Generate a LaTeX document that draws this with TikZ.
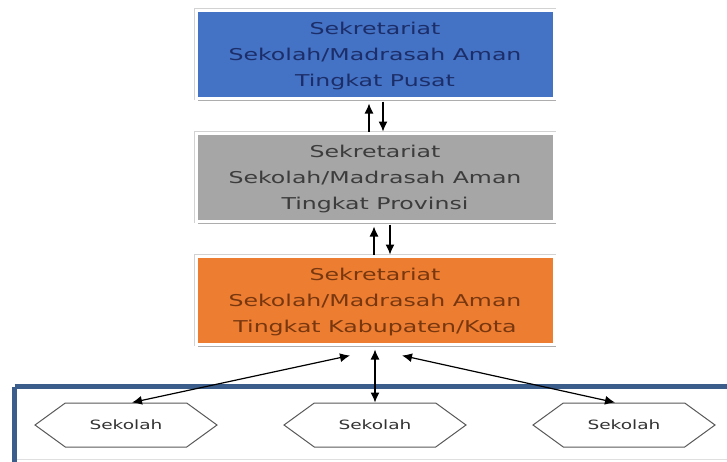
\documentclass[tikz,border=0pt]{standalone}
\usepackage{fontspec}
\usepackage{tikz}
\usetikzlibrary{positioning, shapes.symbols, shadows, arrows.meta}
\newfontfamily\sekfont[FakeStretch=1.45]{DejaVu Sans}
\definecolor{pusatblue}{RGB}{68,114,196}
\definecolor{pusattext}{RGB}{28,46,105}
\definecolor{provgray}{RGB}{166,166,166}
\definecolor{provtext}{RGB}{60,60,60}
\definecolor{kaborange}{RGB}{237,125,49}
\definecolor{kabtext}{RGB}{120,55,15}
\definecolor{framecol}{RGB}{58,93,140}
\tikzset{sekbox/.style = {rectangle, minimum width=358pt, minimum height=88pt, align=center,
    draw=white, line width=3pt, preaction={draw=gray!35, line width=4pt},
    drop shadow={shadow xshift=2pt, shadow yshift=-3pt, fill=gray!80, opacity=.8},
    text depth=-6pt, font=\sekfont\fontsize{16.3}{26}\selectfont}}
\tikzset{sekolah/.style = {signal, signal to=west and east, signal pointer angle=72,
    minimum width=182pt, minimum height=44pt, draw=black!65, fill=white, line width=1pt,
    text=black!80, font=\sekfont\fontsize{12.8}{15}\selectfont}}
\tikzset{link/.style = {line width=1.2pt, >={Latex[length=10pt,width=9pt]}}}

\begin{document}
\begin{tikzpicture}[x=1pt, y=-1pt, on grid]
  \useasboundingbox (0,0) rectangle (727,461);
  % kotak bawah
  \draw[framecol, line width=5pt] (14.5,386.5) -- (740,386.5) (14.5,386.5) -- (14.5,480);
  \draw[gray!25] (17,459) -- (727,459);
  \node [sekbox, fill=pusatblue, text=pusattext] (pusat) at (375,54) {Sekretariat\\Sekolah/Madrasah Aman\\Tingkat Pusat};
  \node [sekbox, fill=provgray, text=provtext, below=123pt of pusat] (prov) {Sekretariat\\Sekolah/Madrasah Aman\\Tingkat Provinsi};
  \node [sekbox, fill=kaborange, text=kabtext, below=123pt of prov] (kab) {Sekretariat\\Sekolah/Madrasah Aman\\Tingkat Kabupaten/Kota};
  \node [sekolah, below=125pt of kab] (s2) {Sekolah};
  \node [sekolah, left=249pt of s2] (s1) {Sekolah};
  \node [sekolah, right=249pt of s2] (s3) {Sekolah};
  \draw[link, ->] ([xshift=-6pt]prov.north) -- ([xshift=-6pt, yshift=-4pt]pusat.south);
  \draw[link, ->] ([xshift=8pt, yshift=-2pt]pusat.south) -- ([xshift=8pt]prov.north);
  \draw[link, ->] ([xshift=-1pt]kab.north) -- ([xshift=-1pt, yshift=-4pt]prov.south);
  \draw[link, ->] ([xshift=15pt, yshift=-2pt]prov.south) -- ([xshift=15pt]kab.north);
  \draw[link, <->] ([xshift=-25pt, yshift=-10pt]kab.south) -- ([xshift=6pt]s1.north);
  \draw[link, <->] ([yshift=-4pt]kab.south) -- (s2.north);
  \draw[link, <->] ([xshift=27pt, yshift=-10pt]kab.south) -- ([xshift=-9pt]s3.north);
\end{tikzpicture}
\end{document}
